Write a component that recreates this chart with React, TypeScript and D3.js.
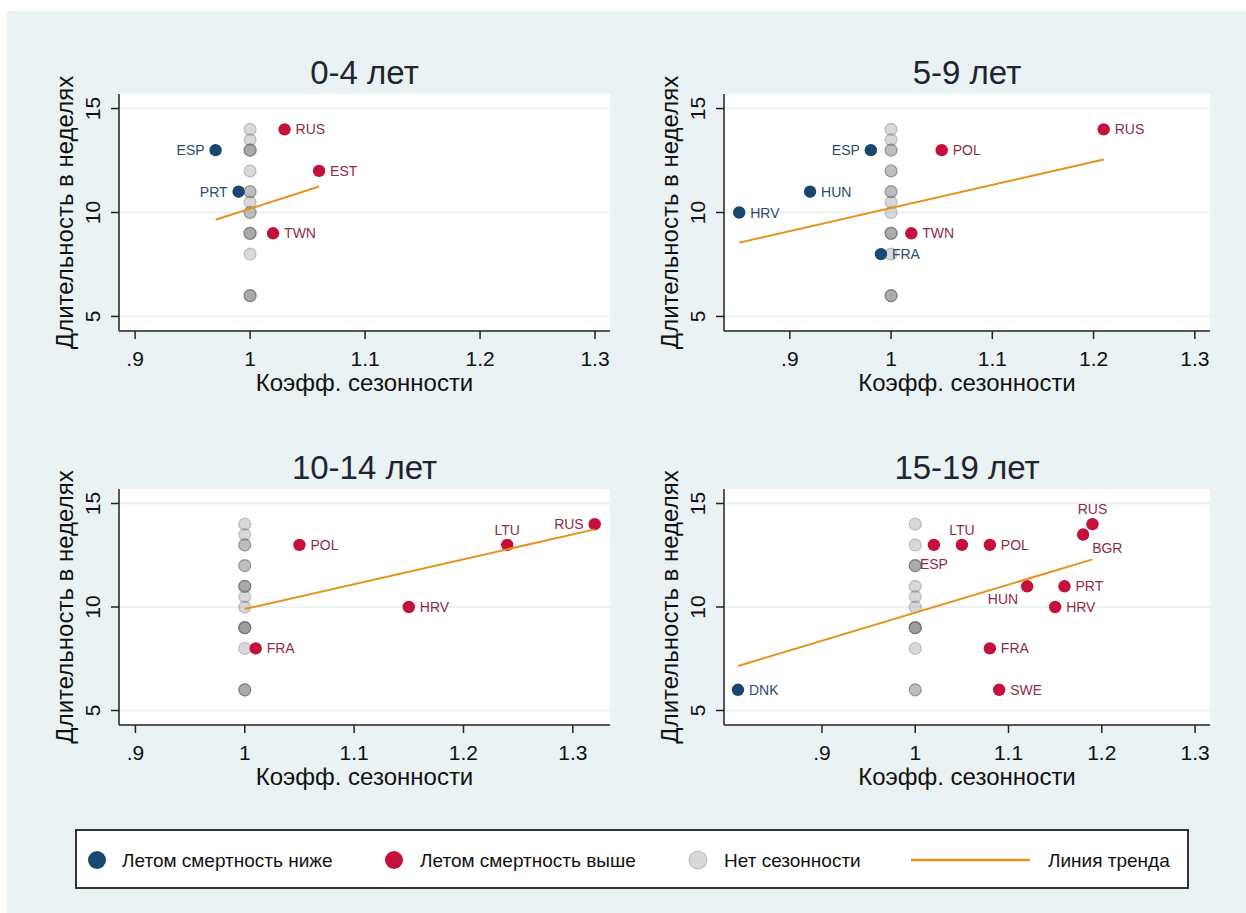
import React from "react";
import * as d3 from "d3";

const W = 1246;
const H = 913;
const FONT = "'Liberation Sans', Arial, sans-serif";

const panelTitles = ["0-4 лет", "5-9 лет", "10-14 лет", "15-19 лет"];
const xTicks = [0.9, 1, 1.1, 1.2, 1.3];
const yTicks = [5, 10, 15];
const legendLabels = ["Летом смертность ниже", "Летом смертность выше", "Нет сезонности", "Линия тренда"];

type Pt = { c: string; x: number; y: number };

// 0-4
const lower04: Pt[] = [
  { c: "ESP", x: 0.97, y: 13 },
  { c: "PRT", x: 0.99, y: 11 },
];
const higher04: Pt[] = [
  { c: "RUS", x: 1.03, y: 14 },
  { c: "EST", x: 1.06, y: 12 },
  { c: "TWN", x: 1.02, y: 9 },
];
const none04 = [14, 13.5, 13, 13, 13, 12, 11, 11, 10.5, 10, 10, 9, 9, 9, 8, 6, 6, 6];
const trend04 = [[0.97, 9.65], [1.06, 11.25]];

// 5-9
const lower59: Pt[] = [
  { c: "HRV", x: 0.85, y: 10 },
  { c: "HUN", x: 0.92, y: 11 },
  { c: "ESP", x: 0.98, y: 13 },
  { c: "FRA", x: 0.99, y: 8 },
];
const higher59: Pt[] = [
  { c: "POL", x: 1.05, y: 13 },
  { c: "TWN", x: 1.02, y: 9 },
  { c: "RUS", x: 1.21, y: 14 },
];
const none59 = [14, 13.5, 13, 13, 12, 12, 11, 11, 10.5, 10, 9, 9, 9, 8, 6, 6, 6];
const trend59 = [[0.85, 8.55], [1.21, 12.55]];

// 10-14
const lower1014: Pt[] = [];
const higher1014: Pt[] = [
  { c: "POL", x: 1.05, y: 13 },
  { c: "LTU", x: 1.24, y: 13 },
  { c: "RUS", x: 1.32, y: 14 },
  { c: "HRV", x: 1.15, y: 10 },
  { c: "FRA", x: 1.01, y: 8 },
];
const none1014 = [14, 13.5, 13, 13, 12, 12, 11, 11, 11, 10.5, 10, 9, 9, 9, 9, 8, 6, 6, 6];
const trend1014 = [[1.0, 9.9], [1.32, 13.75]];

// 15-19
const lower1519: Pt[] = [{ c: "DNK", x: 0.81, y: 6 }];
const higher1519: Pt[] = [
  { c: "ESP", x: 1.02, y: 13 },
  { c: "LTU", x: 1.05, y: 13 },
  { c: "POL", x: 1.08, y: 13 },
  { c: "RUS", x: 1.19, y: 14 },
  { c: "BGR", x: 1.18, y: 13.5 },
  { c: "HUN", x: 1.12, y: 11 },
  { c: "PRT", x: 1.16, y: 11 },
  { c: "HRV", x: 1.15, y: 10 },
  { c: "FRA", x: 1.08, y: 8 },
  { c: "SWE", x: 1.09, y: 6 },
];
const none1519 = [14, 13, 12, 12, 12, 11, 10.5, 10, 9, 9, 9, 9, 8, 6, 6];
const trend1519 = [[0.81, 7.15], [1.19, 12.3]];

// label placement (default: right of marker)
const labelPos: Record<string, string>[] = [
  { ESP: "l", PRT: "l" },
  { ESP: "l" },
  { LTU: "t", RUS: "l" },
  { ESP: "b", LTU: "t", RUS: "t", BGR: "br", HUN: "bl" },
];

const C_BLUE = "#1a476f";
const C_RED = "#c4103a";
const C_BLUE_TXT = "#2b4c6f";
const C_RED_TXT = "#8f2c44";
const C_TREND = "#e8901c";
const C_BG = "#eaf2f3";

const panels = [
  { lower: lower04, higher: higher04, none: none04, trend: trend04, box: [119, 610, 94, 331], xd: [0.886, 1.313] },
  { lower: lower59, higher: higher59, none: none59, trend: trend59, box: [724, 1210, 94, 331], xd: [0.835, 1.315] },
  { lower: lower1014, higher: higher1014, none: none1014, trend: trend1014, box: [119, 610, 489, 725], xd: [0.885, 1.334] },
  { lower: lower1519, higher: higher1519, none: none1519, trend: trend1519, box: [724, 1210, 489, 725], xd: [0.795, 1.316] },
];

const fmt = (v: number) => (v < 1 ? String(v).replace(/^0/, "") : String(v));

function Label({ p, x, y, pos, color }: { p: Pt; x: number; y: number; pos: string; color: string }) {
  let tx = x + 11, ty = y + 5, anchor = "start";
  if (pos === "l") { tx = x - 11; anchor = "end"; }
  else if (pos === "t") { tx = x; ty = y - 10; anchor = "middle"; }
  else if (pos === "b") { tx = x; ty = y + 24; anchor = "middle"; }
  else if (pos === "br") { tx = x + 9; ty = y + 18; }
  else if (pos === "bl") { tx = x - 9; ty = y + 18; anchor = "end"; }
  return (
    <text x={tx} y={ty} textAnchor={anchor} fontSize={14} fill={color} fontFamily={FONT}>
      {p.c}
    </text>
  );
}

function Panel({ idx }: { idx: number }) {
  const pn = panels[idx];
  const [l, r, t, b] = pn.box;
  const x = d3.scaleLinear().domain(pn.xd).range([l, r]);
  const y = d3.scaleLinear().domain([4.3, 15.7]).range([b, t]);
  const line = d3.line<number[]>().x((d) => x(d[0])).y((d) => y(d[1]));
  const cx = (l + r) / 2;
  const pos = labelPos[idx];
  return (
    <g>
      <text x={cx} y={t - 10} textAnchor="middle" fontSize={33} fill="#1f2430" fontFamily={FONT}>
        {panelTitles[idx]}
      </text>
      <rect x={l} y={t} width={r - l} height={b - t} fill="#fff" />
      {yTicks.map((v) => (
        <line key={v} x1={l} x2={r} y1={y(v)} y2={y(v)} stroke={C_BG} strokeWidth={2} />
      ))}
      {pn.none.map((v, i) => (
        <circle key={i} cx={x(1)} cy={y(v)} r={6} fill="#808080" fillOpacity={0.3} stroke="#555" strokeOpacity={0.3} strokeWidth={1.2} />
      ))}
      {pn.lower.map((p) => (
        <circle key={p.c} cx={x(p.x)} cy={y(p.y)} r={6.2} fill={C_BLUE} />
      ))}
      {pn.higher.map((p) => (
        <circle key={p.c} cx={x(p.x)} cy={y(p.y)} r={6.2} fill={C_RED} />
      ))}
      {pn.lower.map((p) => (
        <Label key={p.c} p={p} x={x(p.x)} y={y(p.y)} pos={pos[p.c] || "r"} color={C_BLUE_TXT} />
      ))}
      {pn.higher.map((p) => (
        <Label key={p.c} p={p} x={x(p.x)} y={y(p.y)} pos={pos[p.c] || "r"} color={C_RED_TXT} />
      ))}
      <path d={line(pn.trend) || ""} fill="none" stroke={C_TREND} strokeWidth={2} />
      <line x1={l} x2={l} y1={t} y2={b} stroke="#222" strokeWidth={1.5} />
      <line x1={l} x2={r} y1={b} y2={b} stroke="#222" strokeWidth={1.5} />
      {yTicks.map((v) => (
        <g key={v}>
          <line x1={l - 8} x2={l} y1={y(v)} y2={y(v)} stroke="#222" strokeWidth={1.5} />
          <text
            transform={`translate(${l - 19},${y(v)}) rotate(-90)`}
            textAnchor="middle"
            fontSize={21}
            fill="#111"
            fontFamily={FONT}
          >
            {v}
          </text>
        </g>
      ))}
      {xTicks.map((v) => (
        <g key={v}>
          <line x1={x(v)} x2={x(v)} y1={b} y2={b + 8} stroke="#222" strokeWidth={1.5} />
          <text x={x(v)} y={b + 35} textAnchor="middle" fontSize={21} fill="#111" fontFamily={FONT}>
            {fmt(v)}
          </text>
        </g>
      ))}
      <text x={cx} y={b + 60} textAnchor="middle" fontSize={24} fill="#111" fontFamily={FONT}>
        Коэфф. сезонности
      </text>
      <text
        transform={`translate(${l - 46},${(t + b) / 2}) rotate(-90)`}
        textAnchor="middle"
        fontSize={24}
        fill="#111"
        fontFamily={FONT}
      >
        Длительность в неделях
      </text>
    </g>
  );
}

export default function App() {
  const ly = 860;
  return (
    <svg width={W} height={H} style={{ position: "absolute", left: 0, top: 0 }}>
      <rect x={0} y={0} width={W} height={H} fill="#fff" />
      <rect x={7} y={11} width={W - 7} height={H - 11} fill={C_BG} />
      {panels.map((_, i) => (
        <Panel key={i} idx={i} />
      ))}
      <rect x={76} y={830} width={1112} height={58} fill="#fff" stroke="#333" strokeWidth={2} />
      <circle cx={97} cy={ly} r={9} fill={C_BLUE} />
      <text x={122} y={ly + 7} fontSize={19} fill="#111" fontFamily={FONT}>{legendLabels[0]}</text>
      <circle cx={394} cy={ly} r={9} fill={C_RED} />
      <text x={420} y={ly + 7} fontSize={19} fill="#111" fontFamily={FONT}>{legendLabels[1]}</text>
      <circle cx={698} cy={ly} r={9} fill="#808080" fillOpacity={0.3} stroke="#555" strokeOpacity={0.3} strokeWidth={1.2} />
      <text x={724} y={ly + 7} fontSize={19} fill="#111" fontFamily={FONT}>{legendLabels[2]}</text>
      <line x1={911} x2={1030} y1={ly} y2={ly} stroke={C_TREND} strokeWidth={2.5} />
      <text x={1048} y={ly + 7} fontSize={19} fill="#111" fontFamily={FONT}>{legendLabels[3]}</text>
    </svg>
  );
}
